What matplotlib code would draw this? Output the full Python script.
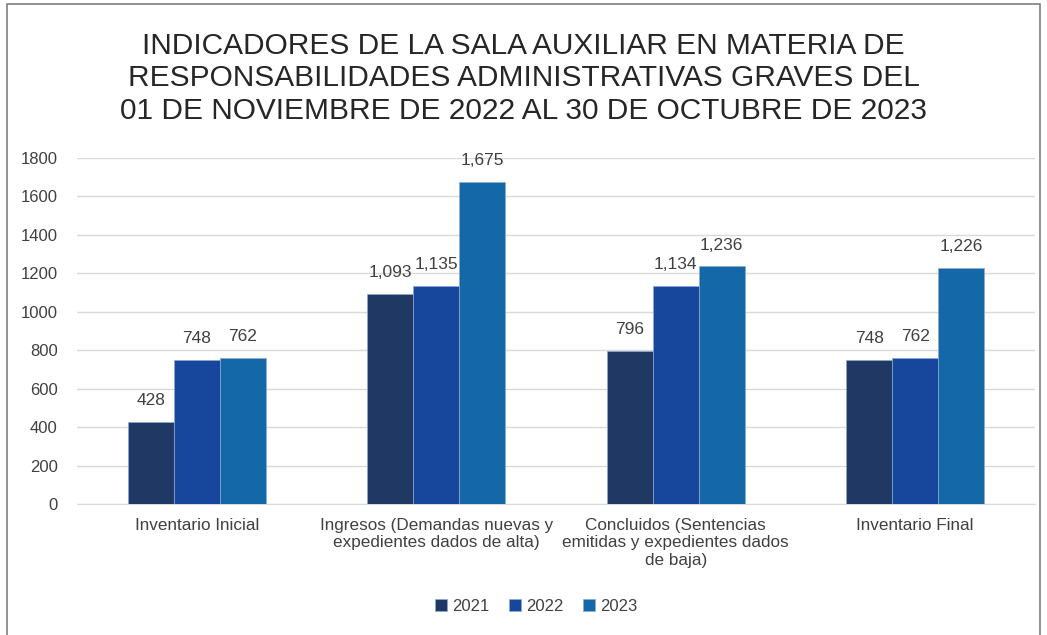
import matplotlib.pyplot as plt
import numpy as np
from matplotlib.patches import Rectangle

# fuente tipo Arial
plt.rcParams['font.family'] = ['Liberation Sans', 'DejaVu Sans']

# ======================
# datos
# ======================
categorias = [
    'Inventario Inicial',
    'Ingresos (Demandas nuevas y\nexpedientes dados de alta)',
    'Concluidos (Sentencias\nemitidas y expedientes dados\nde baja)',
    'Inventario Final',
]
anios = ['2021', '2022', '2023']
v2021 = [428, 1093, 796, 748]
v2022 = [748, 1135, 1134, 762]
v2023 = [762, 1675, 1236, 1226]
colores = ['#203864', '#17479c', '#1468a7']

titulo = ('INDICADORES DE LA SALA AUXILIAR EN MATERIA DE\n'
          'RESPONSABILIDADES ADMINISTRATIVAS GRAVES DEL\n'
          '01 DE NOVIEMBRE DE 2022 AL 30 DE OCTUBRE DE 2023')

txt = '#404040'

fig = plt.figure(figsize=(10.47, 6.35), dpi=100)
ax = fig.add_axes([0.0735, 0.2063, 0.915, 0.5449])

x = np.arange(len(categorias))
w = 0.192
for i, (serie, col, lab) in enumerate(zip([v2021, v2022, v2023], colores, anios)):
    barras = ax.bar(x + (i - 1) * w, serie, w, color=col, label=lab,
                    edgecolor='#8fa9d0', linewidth=0.5, zorder=3)
    ax.bar_label(barras, labels=[f'{v:,}' for v in serie], padding=10,
                 fontsize=12.5, color=txt)

ax.set_xlim(-0.5, 3.5)
ax.set_ylim(0, 1800)
ax.set_yticks(range(0, 1801, 200))
ax.set_xticks(x)
ax.set_xticklabels(categorias, fontsize=12.3, color=txt, linespacing=1.2)
ax.tick_params(axis='y', labelsize=12, labelcolor=txt, length=0, pad=14)
ax.tick_params(axis='x', length=0, pad=10)
ax.grid(axis='y', color='#d9d9d9', linewidth=1, zorder=0)
for s in ['top', 'right', 'left']:
    ax.spines[s].set_visible(False)
ax.spines['bottom'].set_color('#d9d9d9')

# titulo
fig.text(0.5, 0.877, titulo, ha='center', va='center', fontsize=21.5,
         color='#262626', linespacing=1.2)

# leyenda
fig.legend(loc='center', bbox_to_anchor=(0.512, 0.045), ncol=3, frameon=False,
           fontsize=12, handlelength=0.7, handleheight=0.7, handletextpad=0.3,
           columnspacing=1.2, labelcolor=txt)

# marco
fig.add_artist(Rectangle((0.0067, -0.01), 0.987, 1.004, transform=fig.transFigure,
                         fill=False, edgecolor='#7f7f7f', linewidth=1.2))

plt.savefig('out.png', dpi=100)
